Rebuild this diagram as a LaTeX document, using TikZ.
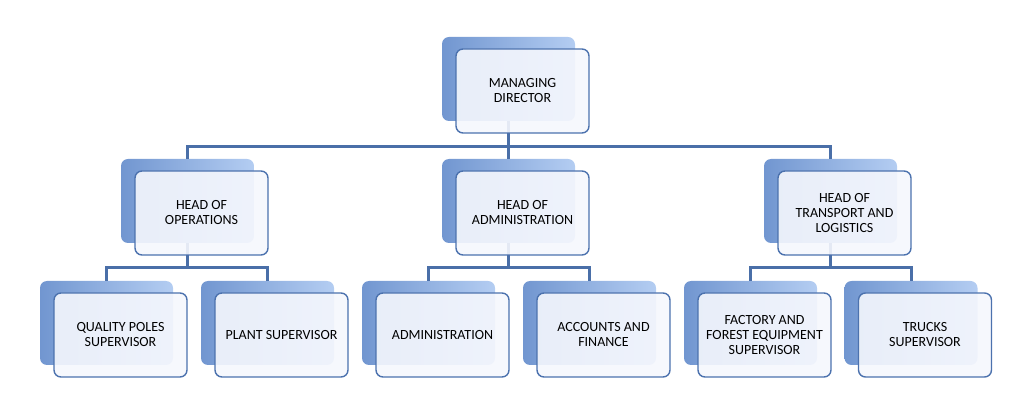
\documentclass[tikz,border=0pt]{standalone}
\usepackage{fontspec}
\setmainfont{Carlito}
\definecolor{linkblue}{HTML}{4A6FA8}
\definecolor{edgeblue}{HTML}{4C72AE}
\definecolor{backdark}{HTML}{7196D0}
\definecolor{backmid}{HTML}{8FB4EA}
\definecolor{backlight}{HTML}{B4CDF2}
\definecolor{frontfill}{HTML}{F5F7FD}
\tikzset{
  backbox/.style={rectangle, rounded corners=7pt, minimum width=133pt, minimum height=84pt,
    inner sep=0pt, left color=backdark, middle color=backmid, right color=backlight},
  frontbox/.style={rectangle, rounded corners=7pt, minimum width=133pt, minimum height=84pt,
    inner sep=0pt, draw=edgeblue, line width=1.4pt, fill=frontfill, fill opacity=0.9,
    text opacity=1, align=center, font=\fontsize{14}{15}\selectfont},
  link/.style={draw=linkblue, line width=3pt}
}
\begin{document}
\begin{tikzpicture}[x=1pt,y=-1pt]
\useasboundingbox (0,0) rectangle (1033,419);

% Shadow boxes
\node[backbox] (mdB)  at (508.5,79) {};
\node[backbox] (opsB) at (187.5,201) {};
\node[backbox] (admB) at (508.5,201) {};
\node[backbox] (trB)  at (830.5,201) {};
\node[backbox] (qpB)  at (106.5,323) {};
\node[backbox] (plB)  at (267.5,323) {};
\node[backbox] (adB)  at (428.5,323) {};
\node[backbox] (acB)  at (589.5,323) {};
\node[backbox] (feB)  at (750.5,323) {};
\node[backbox] (tkB)  at (911,323) {};

% Connectors
\coordinate (bus1) at (508.5,147);
\draw[link] (mdB.south) -- (bus1) -| (opsB.north);
\draw[link] (bus1) -| (trB.north);
\draw[link] (bus1) -- (admB.north);

\coordinate (bus2) at (187.5,268);
\draw[link] (opsB.south) -- (bus2);
\draw[link] (qpB.north) |- (bus2) -| (plB.north);

\coordinate (bus3) at (508.5,268);
\draw[link] (admB.south) -- (bus3);
\draw[link] (adB.north) |- (bus3) -| (acB.north);

\coordinate (bus4) at (830.5,268);
\draw[link] (trB.south) -- (bus4);
\draw[link] (feB.north) |- (bus4) -| (tkB.north);

% Front boxes
\node[frontbox] (md)  at (522.5,91)  {MANAGING\\DIRECTOR};
\node[frontbox] (ops) at (201.5,213) {HEAD OF\\OPERATIONS};
\node[frontbox] (adm) at (522.5,213) {HEAD OF\\ADMINISTRATION};
\node[frontbox] (tr)  at (844.5,213) {HEAD OF\\TRANSPORT AND\\LOGISTICS};
\node[frontbox] (qp)  at (120.5,335) {QUALITY POLES\\SUPERVISOR};
\node[frontbox] (pl)  at (281.5,335) {PLANT SUPERVISOR};
\node[frontbox] (ad)  at (442.5,335) {ADMINISTRATION};
\node[frontbox] (ac)  at (603.5,335) {ACCOUNTS AND\\FINANCE};
\node[frontbox] (fe)  at (764.5,335) {FACTORY AND\\FOREST EQUIPMENT\\SUPERVISOR};
\node[frontbox] (tk)  at (925,335)   {TRUCKS\\SUPERVISOR};
\end{tikzpicture}
\end{document}
